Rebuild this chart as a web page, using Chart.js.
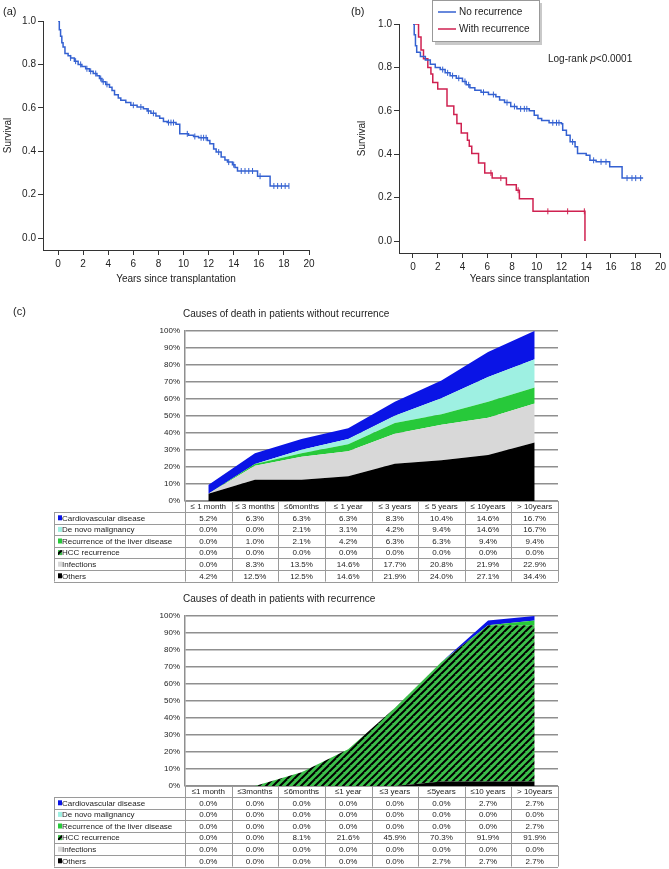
<!DOCTYPE html>
<html>
<head>
<meta charset="utf-8">
<script src="https://cdn.jsdelivr.net/npm/chart.js@4.4.1/dist/chart.umd.min.js"></script>
<style>
  body { margin: 0; background: #fff; width: 669px; height: 869px; position: relative; overflow: hidden; }
  canvas { position: absolute; }
</style>
</head>
<body>
<canvas id="chartA" style="left:0;top:0" width="330" height="290"></canvas>
<canvas id="chartB" style="left:330px;top:0" width="339" height="290"></canvas>
<canvas id="chartC1" style="left:0;top:290px" width="669" height="300"></canvas>
<canvas id="chartC2" style="left:0;top:590px" width="669" height="279"></canvas>
<script>
// ---- survival curves, [years, survival] ----
const kmAll = [[0,1.0],[0.1,0.96],[0.2,0.93],[0.3,0.90],[0.4,0.88],[0.55,0.85],[0.8,0.84],[1.0,0.83],[1.3,0.815],[1.6,0.80],
  [1.9,0.79],[2.2,0.78],[2.5,0.768],[2.8,0.758],[3.1,0.748],[3.3,0.735],[3.5,0.72],[3.8,0.708],[4.1,0.695],[4.3,0.68],
  [4.5,0.66],[4.8,0.645],[5.0,0.635],[5.4,0.625],[5.8,0.612],[6.3,0.604],[6.8,0.596],[7.1,0.585],[7.4,0.575],[7.8,0.562],
  [8.1,0.552],[8.4,0.537],[8.7,0.532],[9.4,0.524],[9.7,0.48],[10.4,0.474],[10.8,0.468],[11.2,0.462],[11.9,0.45],[12.1,0.435],
  [12.4,0.41],[12.6,0.396],[13.0,0.373],[13.3,0.36],[13.5,0.35],[13.9,0.338],[14.1,0.325],[14.3,0.309],[15.9,0.285],[16.9,0.24],[18.4,0.24]];
const censAll = [[1.0,0.83],[1.4,0.815],[1.8,0.80],[2.3,0.78],[2.6,0.768],[3.0,0.758],[3.4,0.735],[3.6,0.72],[3.9,0.708],
  [6.0,0.612],[6.6,0.604],[7.2,0.585],[7.6,0.575],[8.8,0.532],[9.0,0.532],[9.2,0.532],[10.3,0.48],[10.9,0.468],[11.4,0.462],
  [11.6,0.462],[11.8,0.462],[12.8,0.396],[13.6,0.35],[14.0,0.338],[14.6,0.309],[14.9,0.309],[15.2,0.309],[15.5,0.309],
  [16.1,0.285],[17.2,0.24],[17.5,0.24],[17.8,0.24],[18.1,0.24],[18.4,0.24]];

const kmNoRec = [[0,1.0],[0.1,0.95],[0.2,0.90],[0.3,0.87],[0.6,0.85],[1.0,0.834],[1.4,0.815],[1.8,0.80],[2.2,0.79],[2.6,0.775],
  [3.0,0.762],[3.5,0.75],[4.0,0.735],[4.3,0.72],[4.6,0.706],[5.0,0.695],[5.5,0.685],[6.1,0.675],[6.7,0.665],[7.0,0.65],
  [7.4,0.638],[7.9,0.62],[8.4,0.609],[9.4,0.60],[9.8,0.58],[10.1,0.565],[10.4,0.555],[11.0,0.545],[12.0,0.54],[12.1,0.51],
  [12.4,0.488],[12.7,0.457],[13.1,0.434],[13.3,0.403],[14.0,0.395],[14.3,0.372],[14.8,0.365],[15.9,0.342],[16.9,0.29],[18.6,0.29]];
const censNoRec = [[2.4,0.79],[2.8,0.775],[3.2,0.762],[3.7,0.75],[4.2,0.735],[4.5,0.72],[5.7,0.685],[6.5,0.675],[7.6,0.638],
  [8.2,0.62],[8.7,0.609],[9.0,0.609],[9.2,0.609],[11.3,0.545],[11.6,0.545],[11.8,0.545],[12.9,0.457],[14.6,0.372],
  [15.2,0.365],[15.6,0.365],[17.3,0.29],[17.7,0.29],[18.0,0.29],[18.4,0.29]];

const kmRec = [[0,1.0],[0.45,0.94],[0.65,0.88],[0.85,0.84],[1.2,0.80],[1.45,0.77],[1.6,0.73],[2.0,0.70],[2.75,0.622],[3.3,0.583],
  [3.55,0.542],[3.9,0.498],[4.4,0.464],[4.55,0.437],[4.75,0.403],[5.3,0.36],[5.8,0.314],[6.4,0.29],[7.55,0.26],[8.35,0.234],
  [8.6,0.195],[9.7,0.137],[13.9,0.137],[13.9,0.0]];
const censRec = [[6.3,0.314],[7.1,0.29],[8.5,0.234],[10.9,0.137],[12.5,0.137],[13.85,0.137]];

const kmXTicks = [0,2,4,6,8,10,12,14,16,18,20];
const kmYTicks = [0,0.2,0.4,0.6,0.8,1.0];

// ---- causes of death (%), per period ----
const periodsNoRec = ['≤ 1 month','≤ 3 months','≤6months','≤ 1 year','≤ 3 years','≤ 5 years','≤ 10years','> 10years'];
const periodsRec = ['≤1 month','≤3months','≤6months','≤1 year','≤3 years','≤5years','≤10 years','> 10years'];
const causes = ['Cardiovascular disease','De novo malignancy','Recurrence of the liver disease','HCC recurrence','Infections','Others'];

const noRecCardio = [5.2,6.3,6.3,6.3,8.3,10.4,14.6,16.7];
const noRecDeNovo = [0.0,0.0,2.1,3.1,4.2,9.4,14.6,16.7];
const noRecLiver = [0.0,1.0,2.1,4.2,6.3,6.3,9.4,9.4];
const noRecHcc = [0.0,0.0,0.0,0.0,0.0,0.0,0.0,0.0];
const noRecInfections = [0.0,8.3,13.5,14.6,17.7,20.8,21.9,22.9];
const noRecOthers = [4.2,12.5,12.5,14.6,21.9,24.0,27.1,34.4];

const recCardio = [0.0,0.0,0.0,0.0,0.0,0.0,2.7,2.7];
const recDeNovo = [0.0,0.0,0.0,0.0,0.0,0.0,0.0,0.0];
const recLiver = [0.0,0.0,0.0,0.0,0.0,0.0,0.0,2.7];
const recHcc = [0.0,0.0,8.1,21.6,45.9,70.3,91.9,91.9];
const recInfections = [0.0,0.0,0.0,0.0,0.0,0.0,0.0,0.0];
const recOthers = [0.0,0.0,0.0,0.0,0.0,2.7,2.7,2.7];

const FONT = "'Liberation Sans', Arial, Helvetica, sans-serif";
Chart.defaults.font.family = FONT;
Chart.defaults.color = '#222';

const BLUE = '#3461d1';
const RED = '#cf2150';

function pts(arr) { return arr.map(p => ({ x: p[0], y: p[1] })); }

function curve(arr, color) {
  return { data: pts(arr), borderColor: color, borderWidth: 1.5, stepped: true, pointRadius: 0, fill: false };
}
function censor(arr, color) {
  return { data: pts(arr), showLine: false, pointStyle: 'line', rotation: 90, pointRadius: 3,
           borderColor: color, borderWidth: 1, pointBackgroundColor: color };
}

function kmChart(id, datasets, L) {
  return new Chart(document.getElementById(id), {
    type: 'line',
    data: { datasets: datasets },
    options: {
      responsive: false, animation: false, events: [], devicePixelRatio: 1,
      layout: { padding: { left: L.padL, top: L.padT, right: L.padR, bottom: 0 } },
      plugins: { legend: { display: false }, tooltip: { enabled: false } },
      scales: {
        x: {
          type: 'linear', min: L.xMin, max: 20,
          afterBuildTicks: s => { s.ticks = kmXTicks.map(v => ({ value: v })); },
          afterFit: s => { s.height = L.xH; },
          ticks: { font: { size: 10 }, padding: 3, autoSkip: false, maxRotation: 0, color: '#222' },
          grid: { drawOnChartArea: false, tickLength: 5, color: '#333' },
          border: { color: '#333' },
          title: { display: true, text: 'Years since transplantation', font: { size: 10 }, color: '#222', padding: { top: 0, bottom: 5 } }
        },
        y: {
          min: -0.055, max: 1,
          afterBuildTicks: s => { s.ticks = kmYTicks.map(v => ({ value: v })); },
          afterFit: s => { s.width = L.yW; },
          ticks: { font: { size: 10 }, padding: 2, color: '#222', callback: v => v.toFixed(1) },
          grid: { drawOnChartArea: false, tickLength: 5, color: '#333' },
          border: { color: '#333' },
          title: { display: true, text: 'Survival', font: { size: 10 }, color: '#222', padding: { top: 2, bottom: 0 } }
        }
      }
    },
    plugins: [L.deco]
  });
}

// panel (a)
kmChart('chartA', [curve(kmAll, BLUE), censor(censAll, BLUE)], {
  padL: 0, padT: 21, padR: 21, xMin: -1.2, xH: 40, yW: 43,
  deco: { id: 'decoA', afterDraw(chart) {
    const ctx = chart.ctx;
    ctx.save();
    ctx.font = '11px ' + FONT; ctx.fillStyle = '#222'; ctx.textBaseline = 'middle';
    ctx.fillText('(a)', 3, 12);
    ctx.restore();
  } }
});

// panel (b)
kmChart('chartB', [curve(kmNoRec, BLUE), censor(censNoRec, BLUE), curve(kmRec, RED), censor(censRec, RED)], {
  padL: 24, padT: 24, padR: 8, xMin: -1.13, xH: 37, yW: 45,
  deco: { id: 'decoB', afterDraw(chart) {
    const ctx = chart.ctx;
    ctx.save();
    ctx.font = '11px ' + FONT; ctx.fillStyle = '#222'; ctx.textBaseline = 'middle';
    ctx.fillText('(b)', 21, 12);
    // legend box with shadow
    ctx.fillStyle = '#c9c9c9'; ctx.fillRect(105, 3, 107, 42);
    ctx.fillStyle = '#fff'; ctx.fillRect(102, 0, 107, 42);
    ctx.strokeStyle = '#999'; ctx.lineWidth = 1; ctx.strokeRect(102.5, 0.5, 107, 41);
    ctx.lineWidth = 1.5;
    ctx.strokeStyle = BLUE; ctx.beginPath(); ctx.moveTo(108, 12); ctx.lineTo(126, 12); ctx.stroke();
    ctx.strokeStyle = RED; ctx.beginPath(); ctx.moveTo(108, 29); ctx.lineTo(126, 29); ctx.stroke();
    ctx.font = '10px ' + FONT; ctx.fillStyle = '#222';
    ctx.fillText('No recurrence', 129, 12);
    ctx.fillText('With recurrence', 129, 29);
    // log-rank
    let x = 218;
    ctx.fillText('Log-rank ', x, 59); x += ctx.measureText('Log-rank ').width;
    ctx.font = 'italic 10px ' + FONT; ctx.fillText('p', x, 59); x += ctx.measureText('p').width;
    ctx.font = '10px ' + FONT; ctx.fillText('<0.0001', x, 59);
    ctx.restore();
  } }
});

// ---- stacked area charts with tables ----
function hatch(ctx) {
  const c = document.createElement('canvas');
  c.width = 7; c.height = 7;
  const g = c.getContext('2d');
  g.fillStyle = '#3cbf4a'; g.fillRect(0, 0, 7, 7);
  g.strokeStyle = '#000'; g.lineWidth = 2;
  [[-7, 7, 0, 0], [0, 7, 7, 0], [0, 14, 14, 0]].forEach(l => {
    g.beginPath(); g.moveTo(l[0], l[1]); g.lineTo(l[2], l[3]); g.stroke();
  });
  return ctx.createPattern(c, 'repeat');
}

function causeChart(id, periods, series, cfg) {
  const canvas = document.getElementById(id);
  const pattern = hatch(canvas.getContext('2d'));
  const colors = ['#0a14e6', '#9ef0e2', '#27c93a', pattern, '#d8d8d8', '#000'];
  const rows = causes.map((name, i) => ({ name: name, values: series[i], color: colors[i] }));
  // stack from the bottom: Others first
  const datasets = rows.slice().reverse().map((r, i) => ({
    label: r.name, data: r.values, backgroundColor: r.color, borderWidth: 0,
    pointRadius: 0, tension: 0, fill: i === 0 ? 'origin' : '-1'
  }));

  const tablePlugin = { id: 'table' + id, afterDraw(chart) {
    const ctx = chart.ctx, a = chart.chartArea, n = periods.length;
    const cw = (a.right - a.left) / n, hh = 11, rh = 11.6, left = 54;
    const top = Math.round(a.bottom);
    const bottom = top + hh + rh * rows.length;
    ctx.save();
    ctx.fillStyle = '#222'; ctx.textBaseline = 'middle'; ctx.textAlign = 'left';
    ctx.font = '10px ' + FONT;
    ctx.fillText(cfg.title, 183, cfg.titleY);
    if (cfg.panel) { ctx.font = '11px ' + FONT; ctx.fillText(cfg.panel, 13, cfg.panelY); }

    // grid lines
    ctx.strokeStyle = '#9a9a9a'; ctx.lineWidth = 1;
    ctx.beginPath();
    ctx.moveTo(a.left, top + 0.5); ctx.lineTo(a.right, top + 0.5);
    for (let r = 0; r <= rows.length; r++) {
      const y = Math.round(top + hh + r * rh) + 0.5;
      ctx.moveTo(left, y); ctx.lineTo(a.right, y);
    }
    for (let i = 0; i <= n; i++) {
      const x = Math.round(a.left + i * cw) + 0.5;
      ctx.moveTo(x, top); ctx.lineTo(x, bottom);
    }
    ctx.moveTo(left + 0.5, top + hh); ctx.lineTo(left + 0.5, bottom);
    ctx.stroke();

    // header
    ctx.font = '8px ' + FONT; ctx.fillStyle = '#222'; ctx.textAlign = 'center';
    periods.forEach((p, i) => ctx.fillText(p, a.left + (i + 0.5) * cw, top + hh / 2 + 0.5));

    // rows
    rows.forEach((r, k) => {
      const yc = top + hh + (k + 0.5) * rh + 0.5;
      ctx.fillStyle = r.color; ctx.fillRect(left + 4, yc - 3, 4, 5);
      ctx.fillStyle = '#222'; ctx.textAlign = 'left';
      ctx.fillText(r.name, left + 8, yc);
      ctx.textAlign = 'center';
      r.values.forEach((v, i) => ctx.fillText(v.toFixed(1) + '%', a.left + (i + 0.5) * cw, yc));
    });
    ctx.restore();
  } };

  return new Chart(canvas, {
    type: 'line',
    data: { labels: periods, datasets: datasets },
    options: {
      responsive: false, animation: false, events: [], devicePixelRatio: 1,
      layout: { padding: { left: 0, top: cfg.padT, right: 111, bottom: cfg.padB } },
      plugins: { legend: { display: false }, tooltip: { enabled: false } },
      scales: {
        x: { type: 'category', offset: true, display: false },
        y: {
          stacked: true, min: 0, max: 100,
          afterFit: s => { s.width = 185; },
          ticks: { stepSize: 10, font: { size: 8 }, color: '#222', padding: 5, callback: v => v + '%' },
          grid: { color: '#8f8f8f', lineWidth: 1.5, drawTicks: false },
          border: { display: true, color: '#8f8f8f', width: 1.5 }
        }
      }
    },
    plugins: [tablePlugin]
  });
}

causeChart('chartC1', periodsNoRec,
  [noRecCardio, noRecDeNovo, noRecLiver, noRecHcc, noRecInfections, noRecOthers],
  { title: 'Causes of death in patients without recurrence', titleY: 24, panel: '(c)', panelY: 22, padT: 41, padB: 89 });

causeChart('chartC2', periodsRec,
  [recCardio, recDeNovo, recLiver, recHcc, recInfections, recOthers],
  { title: 'Causes of death in patients with recurrence', titleY: 9, padT: 26, padB: 83 });
</script>
</body>
</html>
